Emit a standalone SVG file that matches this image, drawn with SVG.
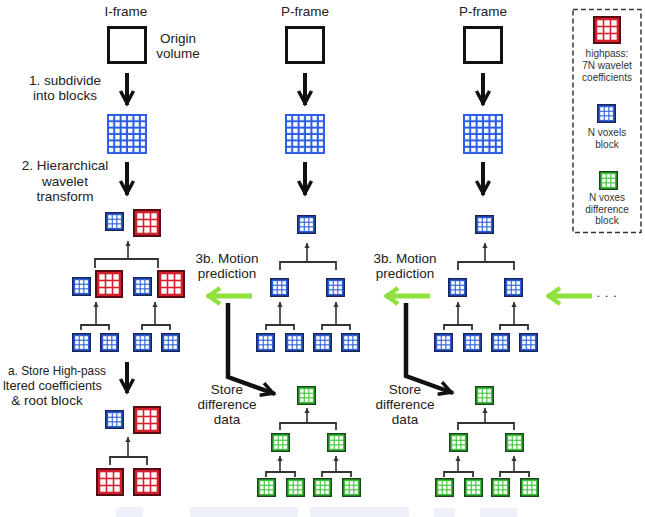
<svg xmlns="http://www.w3.org/2000/svg" xmlns:xlink="http://www.w3.org/1999/xlink" width="645" height="517" viewBox="0 0 645 517">
<style>
text{font-family:"Liberation Sans",Arial,sans-serif;fill:#222;text-anchor:middle}
.t{font-size:13.5px}
.s{text-anchor:start;font-size:13px}
.lg{font-size:10px;fill:#333}
.vol{fill:none;stroke:#111;stroke-width:3}
.ka{fill:none;stroke:#111;stroke-width:4;marker-end:url(#chevK)}
.kb{fill:none;stroke:#111;stroke-width:4.5;stroke-linejoin:miter;marker-end:url(#chevK)}
.ga{fill:none;stroke:#8fe23c;stroke-width:5;marker-end:url(#chevG)}
.br{fill:none;stroke:#333;stroke-width:1.8}
.up{fill:none;stroke:#333;stroke-width:1.6;marker-end:url(#tri)}
.wm{fill:#eef1fa}
</style>
<defs>
<marker id="chevK" markerUnits="userSpaceOnUse" viewBox="-16 -10 20 20" refX="2" refY="0" markerWidth="20" markerHeight="20" orient="auto">
<path d="M-12,-6.5 L0,0 L-12,6.5" fill="none" stroke="#111" stroke-width="3.5"/>
</marker>
<marker id="chevG" markerUnits="userSpaceOnUse" viewBox="-16 -12 20 24" refX="2" refY="0" markerWidth="20" markerHeight="24" orient="auto">
<path d="M-11,-8 L0,0 L-11,8" fill="none" stroke="#8fe23c" stroke-width="4.5"/>
</marker>
<marker id="tri" markerUnits="userSpaceOnUse" viewBox="-6 -4 8 8" refX="0" refY="0" markerWidth="8" markerHeight="8" orient="auto">
<path d="M-5,-2.6 L0,0 L-5,2.6 z" fill="#333"/>
</marker>
<g id="bS">
<rect x="0.75" y="0.75" width="17.5" height="17.5" fill="#2d5fd6" stroke="#17235e" stroke-width="1.5"/>
<g fill="#fff">
<rect x="3.2" y="3.2" width="3.5" height="3.5"/><rect x="7.8" y="3.2" width="3.5" height="3.5"/><rect x="12.4" y="3.2" width="3.5" height="3.5"/>
<rect x="3.2" y="7.8" width="3.5" height="3.5"/><rect x="7.8" y="7.8" width="3.5" height="3.5"/><rect x="12.4" y="7.8" width="3.5" height="3.5"/>
<rect x="3.2" y="12.4" width="3.5" height="3.5"/><rect x="7.8" y="12.4" width="3.5" height="3.5"/><rect x="12.4" y="12.4" width="3.5" height="3.5"/>
</g>
</g>
<g id="gS">
<rect x="0.75" y="0.75" width="17.5" height="17.5" fill="#3ec23a" stroke="#15461a" stroke-width="1.5"/>
<g fill="#fff">
<rect x="3.2" y="3.2" width="3.5" height="3.5"/><rect x="7.8" y="3.2" width="3.5" height="3.5"/><rect x="12.4" y="3.2" width="3.5" height="3.5"/>
<rect x="3.2" y="7.8" width="3.5" height="3.5"/><rect x="7.8" y="7.8" width="3.5" height="3.5"/><rect x="12.4" y="7.8" width="3.5" height="3.5"/>
<rect x="3.2" y="12.4" width="3.5" height="3.5"/><rect x="7.8" y="12.4" width="3.5" height="3.5"/><rect x="12.4" y="12.4" width="3.5" height="3.5"/>
</g>
</g>
<g id="rB">
<rect x="1" y="1" width="26" height="26" fill="#d41f2c" stroke="#5a0a12" stroke-width="2"/>
<g fill="#fff">
<rect x="4.3" y="4.3" width="5.4" height="5.4"/><rect x="11.3" y="4.3" width="5.4" height="5.4"/><rect x="18.3" y="4.3" width="5.4" height="5.4"/>
<rect x="4.3" y="11.3" width="5.4" height="5.4"/><rect x="11.3" y="11.3" width="5.4" height="5.4"/><rect x="18.3" y="11.3" width="5.4" height="5.4"/>
<rect x="4.3" y="18.3" width="5.4" height="5.4"/><rect x="11.3" y="18.3" width="5.4" height="5.4"/><rect x="18.3" y="18.3" width="5.4" height="5.4"/>
</g>
</g>
<pattern id="g6p" patternUnits="userSpaceOnUse" x="1.8" y="1.8" width="6.4" height="6.4">
<rect width="4.4" height="4.4" fill="#fff"/>
</pattern>
<g id="grid">
<rect x="0" y="0" width="40" height="40" fill="#2a5ce6"/>
<rect x="1.8" y="1.8" width="36.4" height="36.4" fill="url(#g6p)"/>
</g>
</defs>

<rect width="645" height="517" fill="#fff"/>

<!-- faint watermark -->
<g id="watermark">
<rect class="wm" x="116" y="507" width="27" height="10"/>
<rect class="wm" x="190" y="507" width="108" height="10"/>
<rect class="wm" x="310" y="507" width="99" height="10"/>
<rect class="wm" x="434" y="508" width="21" height="9"/>
<rect class="wm" x="480" y="508" width="37" height="9"/>
</g>

<!-- texts -->
<g id="labels">
<text class="t" x="126" y="16">I-frame</text>
<text class="t" x="305" y="16">P-frame</text>
<text class="t" x="483" y="16">P-frame</text>
<text class="t" x="178" y="43">Origin</text>
<text class="t" x="178" y="58">volume</text>
<text class="t" x="65" y="85">1. subdivide</text>
<text class="t" x="65" y="100">into blocks</text>
<text class="t" x="65" y="170">2. Hierarchical</text>
<text class="t" x="65" y="186">wavelet</text>
<text class="t" x="65" y="201">transform</text>
<text class="t" x="227" y="263">3b. Motion</text>
<text class="t" x="227" y="278">prediction</text>
<text class="t" x="405" y="263">3b. Motion</text>
<text class="t" x="405" y="278">prediction</text>
<text class="s" x="8" y="375" textLength="98" lengthAdjust="spacingAndGlyphs">a. Store High-pass</text>
<text class="s" x="3" y="390" textLength="99" lengthAdjust="spacingAndGlyphs">ltered coefficients</text>
<text class="t" x="47" y="405">&amp; root block</text>
<text class="t" x="227" y="394">Store</text>
<text class="t" x="227" y="409">difference</text>
<text class="t" x="227" y="424">data</text>
<text class="t" x="405" y="394">Store</text>
<text class="t" x="405" y="409">difference</text>
<text class="t" x="405" y="424">data</text>
<text class="t" x="609" y="297" letter-spacing="4.5">...</text>
</g>

<!-- legend -->
<g id="legend">
<rect x="573" y="9.5" width="68" height="223" fill="none" stroke="#333" stroke-width="1.5" stroke-dasharray="5,3"/>
<use xlink:href="#rB" x="593" y="16"/>
<text class="lg" x="607" y="57">highpass:</text>
<text class="lg" x="607" y="69">7N wavelet</text>
<text class="lg" x="607" y="81">coefficients</text>
<use xlink:href="#bS" x="597" y="104"/>
<text class="lg" x="607" y="136">N voxels</text>
<text class="lg" x="607" y="148">block</text>
<use xlink:href="#gS" x="599" y="171"/>
<text class="lg" x="607" y="201">N voxes</text>
<text class="lg" x="607" y="213">difference</text>
<text class="lg" x="607" y="224">block</text>
</g>

<!-- I-frame column nodes -->
<g id="i-volume"><rect class="vol" x="108.5" y="27.5" width="37" height="35"/></g>
<g id="i-grid"><use xlink:href="#grid" x="107" y="114"/></g>
<g id="i-root"><use xlink:href="#bS" x="105" y="212"/><use xlink:href="#rB" x="133" y="209"/></g>
<g id="i-l1a"><use xlink:href="#bS" x="72" y="277"/><use xlink:href="#rB" x="95" y="270"/></g>
<g id="i-l1b"><use xlink:href="#bS" x="133" y="277"/><use xlink:href="#rB" x="157" y="270"/></g>
<g id="i-l2a"><use xlink:href="#bS" x="72" y="333"/></g>
<g id="i-l2b"><use xlink:href="#bS" x="100" y="333"/></g>
<g id="i-l2c"><use xlink:href="#bS" x="133" y="333"/></g>
<g id="i-l2d"><use xlink:href="#bS" x="161" y="333"/></g>
<g id="i-store-root"><use xlink:href="#bS" x="105" y="410"/><use xlink:href="#rB" x="133" y="406"/></g>
<g id="i-store-a"><use xlink:href="#rB" x="96" y="468"/></g>
<g id="i-store-b"><use xlink:href="#rB" x="133" y="468"/></g>

<!-- P-frame 1 nodes -->
<g id="p1-volume"><rect class="vol" x="286.5" y="27.5" width="37" height="35"/></g>
<g id="p1-grid"><use xlink:href="#grid" x="285" y="114"/></g>
<g id="p1-root"><use xlink:href="#bS" x="297" y="215"/></g>
<g id="p1-l1a"><use xlink:href="#bS" x="270" y="278"/></g>
<g id="p1-l1b"><use xlink:href="#bS" x="326" y="278"/></g>
<g id="p1-l2a"><use xlink:href="#bS" x="256" y="333"/></g>
<g id="p1-l2b"><use xlink:href="#bS" x="285" y="333"/></g>
<g id="p1-l2c"><use xlink:href="#bS" x="313" y="333"/></g>
<g id="p1-l2d"><use xlink:href="#bS" x="341" y="333"/></g>
<g id="p1-d-root"><use xlink:href="#gS" x="297" y="386"/></g>
<g id="p1-d-l1a"><use xlink:href="#gS" x="271" y="433"/></g>
<g id="p1-d-l1b"><use xlink:href="#gS" x="327" y="433"/></g>
<g id="p1-d-l2a"><use xlink:href="#gS" x="257" y="478"/></g>
<g id="p1-d-l2b"><use xlink:href="#gS" x="286" y="478"/></g>
<g id="p1-d-l2c"><use xlink:href="#gS" x="313" y="478"/></g>
<g id="p1-d-l2d"><use xlink:href="#gS" x="342" y="478"/></g>

<!-- P-frame 2 nodes -->
<g id="p2-volume"><rect class="vol" x="464.5" y="27.5" width="37" height="35"/></g>
<g id="p2-grid"><use xlink:href="#grid" x="463" y="114"/></g>
<g id="p2-root"><use xlink:href="#bS" x="475" y="215"/></g>
<g id="p2-l1a"><use xlink:href="#bS" x="448" y="278"/></g>
<g id="p2-l1b"><use xlink:href="#bS" x="504" y="278"/></g>
<g id="p2-l2a"><use xlink:href="#bS" x="434" y="333"/></g>
<g id="p2-l2b"><use xlink:href="#bS" x="463" y="333"/></g>
<g id="p2-l2c"><use xlink:href="#bS" x="491" y="333"/></g>
<g id="p2-l2d"><use xlink:href="#bS" x="519" y="333"/></g>
<g id="p2-d-root"><use xlink:href="#gS" x="475" y="386"/></g>
<g id="p2-d-l1a"><use xlink:href="#gS" x="449" y="433"/></g>
<g id="p2-d-l1b"><use xlink:href="#gS" x="505" y="433"/></g>
<g id="p2-d-l2a"><use xlink:href="#gS" x="435" y="478"/></g>
<g id="p2-d-l2b"><use xlink:href="#gS" x="464" y="478"/></g>
<g id="p2-d-l2c"><use xlink:href="#gS" x="491" y="478"/></g>
<g id="p2-d-l2d"><use xlink:href="#gS" x="520" y="478"/></g>

<!-- connectors -->
<g id="connectors">
<path class="ka" d="M127,73 V105"/>
<path class="ka" d="M127,162 V195"/>
<path class="ka" d="M127,362 V393"/>
<path class="ka" d="M305,73 V105"/>
<path class="ka" d="M305,162 V195"/>
<path class="ka" d="M483,73 V105"/>
<path class="ka" d="M483,162 V195"/>
<path class="kb" d="M228,303 V377 L275,394"/>
<path class="kb" d="M406,303 V376 L453,393"/>
<path class="ga" d="M252,296 H207"/>
<path class="ga" d="M430,296 H385"/>
<path class="ga" d="M592,296 H547"/>

<path class="br" d="M95,268 V259 H158 V268"/>
<path class="up" d="M128,259 V241"/>
<path class="br" d="M81,330 V325 H109 V330"/>
<path class="up" d="M96,325 V302"/>
<path class="br" d="M142,330 V325 H170 V330"/>
<path class="up" d="M155,325 V302"/>
<path class="br" d="M110,465 V457 H147 V465"/>
<path class="up" d="M128,457 V437"/>

<path class="br" d="M280,270 V262 H336 V270"/>
<path class="up" d="M307,262 V243"/>
<path class="br" d="M266,330 V325 H294 V330"/>
<path class="up" d="M280,325 V302"/>
<path class="br" d="M322,330 V325 H350 V330"/>
<path class="up" d="M336,325 V302"/>
<path class="br" d="M280,430 V423 H336 V430"/>
<path class="up" d="M307,423 V408"/>
<path class="br" d="M266,477 V472 H295 V477"/>
<path class="up" d="M280,472 V456"/>
<path class="br" d="M322,477 V472 H351 V477"/>
<path class="up" d="M336,472 V456"/>

<path class="br" d="M458,270 V262 H514 V270"/>
<path class="up" d="M485,262 V243"/>
<path class="br" d="M444,330 V325 H472 V330"/>
<path class="up" d="M458,325 V302"/>
<path class="br" d="M500,330 V325 H528 V330"/>
<path class="up" d="M514,325 V302"/>
<path class="br" d="M458,430 V423 H514 V430"/>
<path class="up" d="M485,423 V408"/>
<path class="br" d="M444,477 V472 H473 V477"/>
<path class="up" d="M458,472 V456"/>
<path class="br" d="M500,477 V472 H529 V477"/>
<path class="up" d="M514,472 V456"/>
</g>
</svg>
